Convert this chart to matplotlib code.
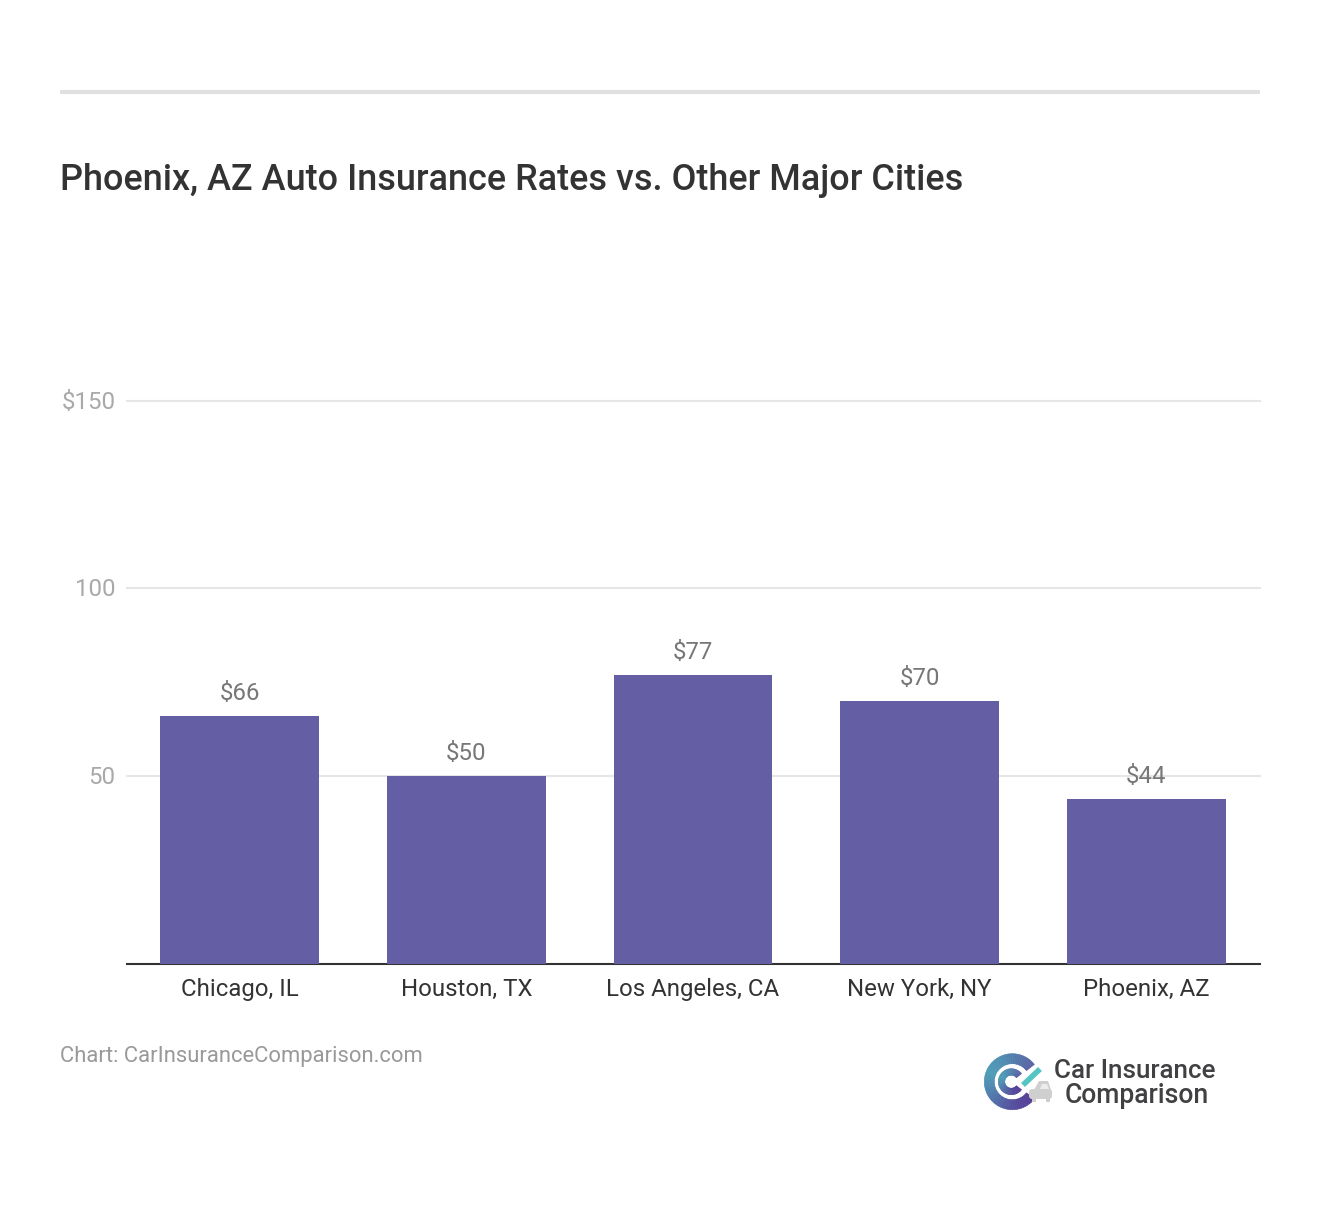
import matplotlib
matplotlib.use("Agg")
import matplotlib.pyplot as plt
from matplotlib.colors import LinearSegmentedColormap
from matplotlib.patches import Wedge, FancyBboxPatch, Polygon, Rectangle
from matplotlib.transforms import ScaledTranslation

plt.rcParams['font.family'] = ['Roboto', 'DejaVu Sans']

# Data
cities = ['Chicago, IL', 'Houston, TX', 'Los Angeles, CA', 'New York, NY', 'Phoenix, AZ']
rates = [66, 50, 77, 70, 44]
y_ticks = [50, 100, 150]
y_tick_labels = ['50', '100', '$150']

W, H = 1320, 1222
fig = plt.figure(figsize=(W / 100, H / 100), dpi=100, facecolor='white')


def px(size):
    # css pixels to points at dpi 100
    return size * 0.72


# Main axes, placed in pixel positions
left, right, top, bottom = 126.5, 1259.6, 400.7, 964
ax = fig.add_axes([left / W, 1 - bottom / H, (right - left) / W, (bottom - top) / H])
ax.bar(range(len(cities)), rates, width=0.7, color='#645fa5', zorder=3)
ax.set_xlim(-0.5, len(cities) - 0.5)
ax.set_ylim(0, 150)
ax.set_yticks(y_ticks)
ax.set_yticklabels(y_tick_labels, fontsize=px(24), color='#a9a9a9')
ax.set_xticks(range(len(cities)))
ax.set_xticklabels(cities, fontsize=px(24), color='#333333')
ax.tick_params(axis='y', length=0, pad=8)
ax.tick_params(axis='x', length=0, pad=10)
# y labels sit a pixel above their gridlines
for tick in ax.get_yticklabels():
    tick.set_transform(tick.get_transform() + ScaledTranslation(0, 1 / 100, fig.dpi_scale_trans))
ax.grid(axis='y', color='#e6e6e6', linewidth=1.5, zorder=0, clip_on=False)
ax.set_axisbelow(True)
for side in ['top', 'right', 'left']:
    ax.spines[side].set_visible(False)
ax.spines['bottom'].set_color('#333333')
ax.spines['bottom'].set_linewidth(1.5)
ax.patch.set_alpha(0)

# Value labels on top of the bars
for i, v in enumerate(rates):
    ax.annotate(f'${v}', (i, v), xytext=(0, 8), textcoords='offset points',
                ha='center', va='bottom', fontsize=px(24), color='#777777', zorder=4)

# Overlay in pixel coordinates for the header, source and logo
ov = fig.add_axes([0, 0, 1, 1], zorder=5)
ov.set_xlim(0, W)
ov.set_ylim(0, H)
ov.axis('off')
ov.patch.set_alpha(0)

ov.plot([60, 1260], [H - 92, H - 92], color='#e0e0e0', linewidth=3, solid_capstyle='butt')
ov.text(60, H - 180, 'Phoenix, AZ Auto Insurance Rates vs. Other Major Cities',
        fontsize=px(35.97), fontweight='medium', color='#333333', ha='left', va='center')
ov.text(60, H - 1056.5, 'Chart: CarInsuranceComparison.com',
        fontsize=px(22), color='#999999', ha='left', va='center')

# Logo: two rings shaded from blue through teal to purple
ring = LinearSegmentedColormap.from_list(
    'ring', ['#5b63a5', '#5378ab', '#4f8fb2', '#4d9db6', '#4f84ae', '#5265a6', '#54499c', '#563f98'])
start, end = 38, 322
n_seg = 60
step = (end - start) / n_seg
cx, cy = 1012.3, H - 1081.7
for i in range(n_seg):
    c = ring(i / (n_seg - 1))
    ov.add_patch(Wedge((cx, cy), 28, start + i * step, start + (i + 1) * step,
                       width=10, facecolor=c, edgecolor=c, lw=0.4))
    ov.add_patch(Wedge((cx - 1, cy), 13, start + i * step, start + (i + 1) * step,
                       width=6.5, facecolor=c, edgecolor=c, lw=0.4))
# check mark stroke
ov.plot([1023, 1040], [H - 1085, H - 1069], color='#55c5c4', linewidth=4, solid_capstyle='butt')
# small car
car = '#cfcfcf'
ov.add_patch(FancyBboxPatch((1029, H - 1099), 23, 10, boxstyle='round,pad=0,rounding_size=3',
                            color=car, lw=0))
ov.add_patch(Polygon([(1034, H - 1090), (1039, H - 1081), (1048, H - 1081), (1051, H - 1090)],
                     closed=True, color=car, lw=0))
ov.add_patch(Rectangle((1032, H - 1102), 3.5, 4, color=car, lw=0))
ov.add_patch(Rectangle((1046, H - 1102), 3.5, 4, color=car, lw=0))
ov.add_patch(Polygon([(1040, H - 1089), (1042, H - 1084), (1047, H - 1084), (1049, H - 1089)],
                     closed=True, color='#ececec', lw=0))

ov.text(1134.5, H - 1071.5, 'Car Insurance', fontsize=px(26), fontweight='medium',
        color='#414042', ha='center', va='center')
ov.text(1136.5, H - 1095.5, 'Comparison', fontsize=px(26.5), fontweight='medium',
        color='#414042', ha='center', va='center')

fig.savefig('out.png', dpi=100, facecolor='white')
